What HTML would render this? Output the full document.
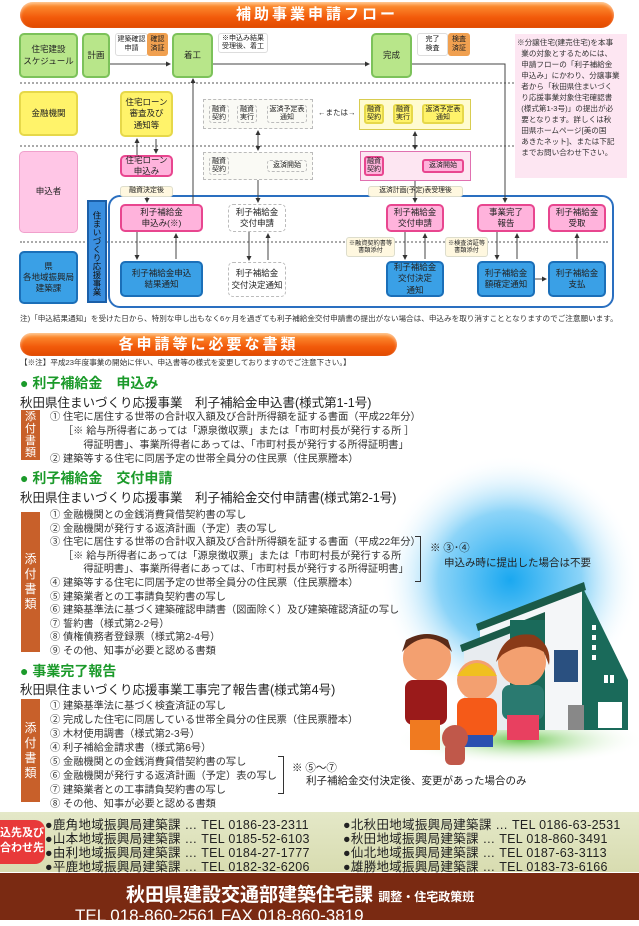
<!DOCTYPE html>
<html><head><meta charset="utf-8">
<style>
*{margin:0;padding:0;box-sizing:border-box}
body{width:639px;height:920px;position:relative;overflow:hidden;background:#fff;font-family:"Liberation Sans","Noto Sans CJK JP",sans-serif;color:#222}
.a{position:absolute}
.bx{position:absolute;display:flex;align-items:center;justify-content:center;text-align:center;font-size:8.5px;line-height:1.3;border-radius:5px;color:#222}
.g{background:#b8e68a;border:2px solid #7cc25a}
.y{background:#fff36a;border:2px solid #e6d84a}
.p{background:#ffb3dc;border:2px solid #e8468f}
.pl{background:#ffc6e6;border:1px solid #f0a0cc}
.b{background:#3aa0e6;border:2px solid #1b6fb8}
.w{background:#fff;border:1px dashed #bbb}
.sm{position:absolute;display:flex;align-items:center;justify-content:center;text-align:center;font-size:7px;line-height:1.2;border-radius:3px;white-space:nowrap}
.ban{position:absolute;border-radius:14px;background:linear-gradient(#ff9a3a,#f25a0a 60%,#e04a00);color:#fff;font-weight:bold;text-align:center;letter-spacing:3px;box-shadow:inset 0 2px 3px rgba(255,255,255,.5)}
.hd{position:absolute;left:20px;color:#1b9a2a;font-weight:bold;font-size:14px}
.st{position:absolute;left:20px;font-size:12.5px;color:#222}
.it{position:absolute;left:50px;font-size:10.2px;color:#333;white-space:nowrap}
.lab{position:absolute;left:21px;width:19px;background:#c8602a;color:#fff;font-size:12px;line-height:15px;display:flex;flex-direction:column;align-items:center;justify-content:center}
.ct{position:absolute;font-size:12.5px;color:#222;white-space:nowrap;letter-spacing:.3px}
</style></head><body>

<div class="ban" style="left:20px;top:2px;width:594px;height:26px;font-size:15px;line-height:26px">補助事業申請フロー</div>

<div class="a" style="left:20px;top:82px;width:494px;border-top:2px dotted #aaa"></div>
<div class="a" style="left:20px;top:145px;width:494px;border-top:2px dotted #aaa"></div>
<div class="a" style="left:20px;top:241px;width:588px;border-top:2px dotted #aaa"></div>

<div class="a" style="left:515px;top:34px;width:112px;height:144px;background:#fde6f2;font-size:7.6px;line-height:11px;padding:3px 0 0 2px;color:#333;white-space:nowrap">※分譲住宅(建売住宅)を本事<br>&nbsp;&nbsp;業の対象とするためには、<br>&nbsp;&nbsp;申請フローの「利子補給金<br>&nbsp;&nbsp;申込み」にかわり、分譲事業<br>&nbsp;&nbsp;者から「秋田県住まいづく<br>&nbsp;&nbsp;り応援事業対象住宅確認書<br>&nbsp;&nbsp;(様式第1-3号)」の提出が必<br>&nbsp;&nbsp;要となります。詳しくは秋<br>&nbsp;&nbsp;田県ホームページ[美の国<br>&nbsp;&nbsp;あきたネット]、または下記<br>&nbsp;&nbsp;までお問い合わせ下さい。</div>

<div class="a" style="left:108px;top:195px;width:506px;height:113px;border:2px solid #2a6fc0;border-radius:12px"></div>
<div class="a" style="left:87px;top:200px;width:20px;height:103px;background:#3a8fe0;border:2px solid #1b5fa8;font-size:8.5px;line-height:16px;writing-mode:vertical-rl;text-align:center;padding-top:4px;color:#111">住まいづくり応援事業</div>

<div class="bx g" style="left:19px;top:33px;width:59px;height:45px">住宅建設<br>スケジュール</div>
<div class="bx y" style="left:19px;top:91px;width:59px;height:45px">金融機関</div>
<div class="bx pl" style="left:19px;top:151px;width:59px;height:82px">申込者</div>
<div class="bx b" style="left:19px;top:251px;width:59px;height:53px">県<br>各地域振興局<br>建築課</div>

<div class="bx g" style="left:82px;top:33px;width:28px;height:45px">計画</div>
<div class="sm" style="left:115px;top:33px;width:33px;height:23px;background:#fff;border:1px solid #ddd">建築確認<br>申請</div>
<div class="sm" style="left:147px;top:33px;width:21px;height:23px;background:#f0a050">確認<br>済証</div>
<div class="bx g" style="left:172px;top:33px;width:41px;height:45px">着工</div>
<div class="sm" style="left:218px;top:33px;width:50px;height:20px;background:#fff;border:1px solid #ddd;text-align:left">※申込み結果<br>受理後、着工</div>
<div class="bx g" style="left:371px;top:33px;width:41px;height:45px">完成</div>
<div class="sm" style="left:417px;top:33px;width:31px;height:23px;background:#fff;border:1px solid #ddd">完了<br>検査</div>
<div class="sm" style="left:448px;top:33px;width:22px;height:23px;background:#f0a050">検査<br>済証</div>

<div class="bx y" style="left:120px;top:91px;width:53px;height:46px">住宅ローン<br>審査及び<br>通知等</div>
<div class="a" style="left:203px;top:99px;width:110px;height:30px;border:1px dashed #bbb;background:#fafaf5"></div>
<div class="sm" style="left:209px;top:105px;width:20px;height:18px;border:1px dashed #bbb">融資<br>契約</div>
<div class="sm" style="left:237px;top:105px;width:20px;height:18px;border:1px dashed #bbb">融資<br>実行</div>
<div class="sm" style="left:267px;top:105px;width:40px;height:18px;border:1px dashed #bbb">返済予定表<br>通知</div>
<div class="a" style="left:318px;top:107px;font-size:7.5px">←または→</div>
<div class="a" style="left:359px;top:99px;width:112px;height:31px;background:#fffbd0;border:1px solid #d8cc50"></div>
<div class="sm y" style="left:364px;top:104px;width:20px;height:20px">融資<br>契約</div>
<div class="sm y" style="left:393px;top:104px;width:20px;height:20px">融資<br>実行</div>
<div class="sm y" style="left:422px;top:104px;width:42px;height:20px">返済予定表<br>通知</div>

<div class="bx p" style="left:120px;top:155px;width:53px;height:22px">住宅ローン<br>申込み</div>
<div class="a" style="left:203px;top:152px;width:110px;height:28px;border:1px dashed #bbb;background:#fafaf5"></div>
<div class="sm" style="left:209px;top:157px;width:20px;height:18px;border:1px dashed #bbb">融資<br>契約</div>
<div class="sm" style="left:267px;top:160px;width:40px;height:12px;border:1px dashed #bbb">返済開始</div>
<div class="a" style="left:360px;top:151px;width:111px;height:30px;background:#fde6f2;border:1px solid #e070b0"></div>
<div class="sm p" style="left:364px;top:156px;width:20px;height:20px">融資<br>契約</div>
<div class="sm p" style="left:422px;top:159px;width:42px;height:14px">返済開始</div>

<div class="sm" style="left:120px;top:186px;width:53px;height:11px;background:#fff8e0;border:1px solid #ddc">融資決定後</div>
<div class="sm" style="left:368px;top:186px;width:95px;height:11px;background:#fff8e0;border:1px solid #ddc;font-size:6.8px">返済計画(予定)表受理後</div>

<div class="bx p" style="left:120px;top:204px;width:83px;height:28px">利子補給金<br>申込み(※)</div>
<div class="bx w" style="left:228px;top:204px;width:58px;height:28px">利子補給金<br>交付申請</div>
<div class="bx p" style="left:386px;top:204px;width:58px;height:28px">利子補給金<br>交付申請</div>
<div class="bx p" style="left:477px;top:204px;width:58px;height:28px">事業完了<br>報告</div>
<div class="bx p" style="left:548px;top:204px;width:58px;height:28px">利子補給金<br>受取</div>
<div class="sm" style="left:346px;top:237px;width:49px;height:20px;background:#fff8e0;border:1px solid #ddc;font-size:6.2px">※融資契約書等<br>書類添付</div>
<div class="sm" style="left:445px;top:237px;width:43px;height:20px;background:#fff8e0;border:1px solid #ddc;font-size:6.2px">※検査済証等<br>書類添付</div>

<div class="bx b" style="left:120px;top:261px;width:83px;height:36px">利子補給金申込<br>結果通知</div>
<div class="bx w" style="left:228px;top:262px;width:58px;height:35px">利子補給金<br>交付決定通知</div>
<div class="bx b" style="left:386px;top:261px;width:58px;height:36px">利子補給金<br>交付決定<br>通知</div>
<div class="bx b" style="left:477px;top:261px;width:58px;height:36px">利子補給金<br>額確定通知</div>
<div class="bx b" style="left:548px;top:261px;width:58px;height:36px">利子補給金<br>支払</div>

<svg class="a" style="left:0;top:0" width="639" height="320">
<defs><marker id="m" markerWidth="5" markerHeight="5" refX="4" refY="2.5" orient="auto"><path d="M0,0L5,2.5L0,5z" fill="#333"/></marker></defs>
<g stroke="#444" stroke-width="1" fill="none" marker-end="url(#m)">
<path d="M110,64H170"/><path d="M213,64H369"/><path d="M412,64H505V202"/>
<path d="M193,204V79"/>
<path d="M137,155V139"/><path d="M156,139V153"/>
<path d="M258,140V131"/><path d="M258,140V150"/><path d="M258,180V202"/>
<path d="M415,140V132"/><path d="M415,140V149"/><path d="M415,181V202"/>
<path d="M147,197V202"/>
<path d="M137,232V259"/><path d="M176,259V234"/>
<path d="M249,232V260"/><path d="M268,260V234"/>
<path d="M405,232V259"/><path d="M425,259V234"/>
<path d="M497,232V259"/><path d="M517,259V234"/>
<path d="M577,259V234"/><path d="M535,279H546"/>
</g></svg>

<div class="a" style="left:20px;top:313px;font-size:7.6px;white-space:nowrap;color:#333">注)「申込結果通知」を受けた日から、特別な申し出もなく6ヶ月を過ぎても利子補給金交付申請書の提出がない場合は、申込みを取り消すこととなりますのでご注意願います。</div>

<div class="ban" style="left:20px;top:333px;width:377px;height:23px;font-size:15px;line-height:23px">各申請等に必要な書類</div>

<svg class="a" style="left:380px;top:440px" width="259" height="370">
<defs><radialGradient id="sky" cx="0.5" cy="0.5" r="0.5"><stop offset="0" stop-color="#1aa8f0"/><stop offset="0.55" stop-color="#8cd4f8"/><stop offset="1" stop-color="#fff" stop-opacity="0"/></radialGradient>
<radialGradient id="gr" cx="0.5" cy="0.5" r="0.5"><stop offset="0" stop-color="#6cc850"/><stop offset="1" stop-color="#fff" stop-opacity="0"/></radialGradient></defs>
<ellipse cx="130" cy="140" rx="130" ry="125" fill="url(#sky)"/>
<ellipse cx="140" cy="300" rx="125" ry="25" fill="url(#gr)"/>
<polygon points="100,184 202,146 202,290 100,290" fill="#f4f6f8"/>
<polygon points="202,146 248,240 248,290 202,290" fill="#1a6a5a"/>
<polygon points="96,184 204,142 206,150 98,191" fill="#1a5a48"/>
<polygon points="84,205 165,178 165,290 84,290" fill="#e8ecf0"/>
<polygon points="80,205 165,172 165,180 82,212" fill="#1a5a48"/>
<rect x="130" y="180" width="35" height="110" fill="#1a6a5a"/>
<rect x="174" y="210" width="24" height="32" fill="#2a5080"/>
<rect x="188" y="265" width="16" height="25" fill="#888"/>
<rect x="218" y="262" width="24" height="26" fill="#fff"/>
<g fill="#fff"><rect x="212" y="185" width="4" height="5"/><rect x="212" y="195" width="4" height="5"/><rect x="212" y="205" width="4" height="5"/><rect x="212" y="215" width="4" height="5"/><rect x="224" y="235" width="4" height="8"/><rect x="230" y="235" width="4" height="8"/></g>
<circle cx="47" cy="218" r="24" fill="#f3a070"/><path d="M22,212Q47,185 72,212L68,200Q47,188 26,200z" fill="#5a2a18"/>
<rect x="25" y="240" width="42" height="45" rx="8" fill="#9a1a1a"/><rect x="30" y="280" width="30" height="30" fill="#f07a20"/>
<circle cx="142" cy="222" r="24" fill="#f3a070"/><path d="M116,222Q124,190 154,195Q172,205 169,225L164,212Q144,200 122,215z" fill="#8a3a18"/>
<rect x="122" y="245" width="42" height="35" rx="8" fill="#2a7a70"/><rect x="127" y="275" width="32" height="25" fill="#e84060"/>
<circle cx="97" cy="240" r="20" fill="#f3a070"/><path d="M77,236Q97,210 117,236z" fill="#f0c020"/>
<rect x="77" y="258" width="40" height="40" rx="8" fill="#f55a18"/><rect x="81" y="295" width="32" height="12" fill="#2a50b0"/>
<circle cx="75" cy="298" r="13" fill="#c0584a"/><rect x="65" y="303" width="20" height="22" rx="6" fill="#c0584a"/>
</svg>

<div class="a" style="left:20px;top:357px;font-size:7.6px;color:#333">【※注】平成23年度事業の開始に伴い、申込書等の様式を変更しておりますのでご注意下さい。】</div>
<div class="hd" style="top:373px">● 利子補給金　申込み</div>
<div class="st" style="top:392px">秋田県住まいづくり応援事業　利子補給金申込書(様式第1-1号)</div>
<div class="lab" style="top:410px;height:50px;font-size:11px;line-height:12px">添<br>付<br>書<br>類</div>
<div class="it" style="top:408px">① 住宅に居住する世帯の合計収入額及び合計所得額を証する書面（平成22年分）</div>
<div class="it" style="top:422px;left:63px">［※ 給与所得者にあっては「源泉徴収票」または「市町村長が発行する所 ］</div>
<div class="it" style="top:436px;left:63px">　　得証明書」、事業所得者にあっては、「市町村長が発行する所得証明書」</div>
<div class="it" style="top:450px">② 建築等する住宅に同居予定の世帯全員分の住民票（住民票謄本）</div>

<div class="hd" style="top:468px">● 利子補給金　交付申請</div>
<div class="st" style="top:487px">秋田県住まいづくり応援事業　利子補給金交付申請書(様式第2-1号)</div>
<div class="lab" style="top:512px;height:140px">添<br>付<br>書<br>類</div>
<div class="it" style="top:506px">① 金融機関との金銭消費貸借契約書の写し</div>
<div class="it" style="top:520px">② 金融機関が発行する返済計画（予定）表の写し</div>
<div class="it" style="top:533px">③ 住宅に居住する世帯の合計収入額及び合計所得額を証する書面（平成22年分）</div>
<div class="it" style="top:547px;left:63px">［※ 給与所得者にあっては「源泉徴収票」または「市町村長が発行する所</div>
<div class="it" style="top:560px;left:63px">　　得証明書」、事業所得者にあっては、「市町村長が発行する所得証明書」</div>
<div class="it" style="top:574px">④ 建築等する住宅に同居予定の世帯全員分の住民票（住民票謄本）</div>
<div class="it" style="top:588px">⑤ 建築業者との工事請負契約書の写し</div>
<div class="it" style="top:601px">⑥ 建築基準法に基づく建築確認申請書（図面除く）及び建築確認済証の写し</div>
<div class="it" style="top:615px">⑦ 誓約書（様式第2-2号）</div>
<div class="it" style="top:628px">⑧ 債権債務者登録票（様式第2-4号）</div>
<div class="it" style="top:642px">⑨ その他、知事が必要と認める書類</div>
<div class="a" style="left:415px;top:536px;width:6px;height:46px;border:1px solid #333;border-left:none"></div>
<div class="a" style="left:430px;top:540px;font-size:10.5px">※ ③･④</div>
<div class="a" style="left:444px;top:555px;font-size:10.5px">申込み時に提出した場合は不要</div>

<div class="hd" style="top:661px">● 事業完了報告</div>
<div class="st" style="top:679px">秋田県住まいづくり応援事業工事完了報告書(様式第4号)</div>
<div class="lab" style="top:699px;height:103px">添<br>付<br>書<br>類</div>
<div class="it" style="top:697px">① 建築基準法に基づく検査済証の写し</div>
<div class="it" style="top:711px">② 完成した住宅に同居している世帯全員分の住民票（住民票謄本）</div>
<div class="it" style="top:725px">③ 木材使用調書（様式第2-3号）</div>
<div class="it" style="top:739px">④ 利子補給金請求書（様式第6号）</div>
<div class="it" style="top:753px">⑤ 金融機関との金銭消費貸借契約書の写し</div>
<div class="it" style="top:767px">⑥ 金融機関が発行する返済計画（予定）表の写し</div>
<div class="it" style="top:781px">⑦ 建築業者との工事請負契約書の写し</div>
<div class="it" style="top:795px">⑧ その他、知事が必要と認める書類</div>
<div class="a" style="left:278px;top:756px;width:6px;height:38px;border:1px solid #333;border-left:none"></div>
<div class="a" style="left:292px;top:760px;font-size:10.5px">※ ⑤～⑦</div>
<div class="a" style="left:306px;top:773px;font-size:10.5px">利子補給金交付決定後、変更があった場合のみ</div>

<div class="a" style="left:0;top:812px;width:639px;height:60px;background:linear-gradient(#e4e8c8,#d8dcb0)"></div>
<div class="a" style="left:-10px;top:820px;width:55px;height:44px;background:#e83a3a;border-radius:10px;color:#fff;font-weight:bold;font-size:11px;line-height:15px;padding:6px 0 0 10px">込先及び<br>合わせ先</div>
<div class="ct" style="left:45px;top:814px">●鹿角地域振興局建築課 … TEL 0186-23-2311</div>
<div class="ct" style="left:45px;top:828px">●山本地域振興局建築課 … TEL 0185-52-6103</div>
<div class="ct" style="left:45px;top:842px">●由利地域振興局建築課 … TEL 0184-27-1777</div>
<div class="ct" style="left:45px;top:856px">●平鹿地域振興局建築課 … TEL 0182-32-6206</div>
<div class="ct" style="left:343px;top:814px">●北秋田地域振興局建築課 … TEL 0186-63-2531</div>
<div class="ct" style="left:343px;top:828px">●秋田地域振興局建築課 … TEL 018-860-3491</div>
<div class="ct" style="left:343px;top:842px">●仙北地域振興局建築課 … TEL 0187-63-3113</div>
<div class="ct" style="left:343px;top:856px">●雄勝地域振興局建築課 … TEL 0183-73-6166</div>

<div class="a" style="left:0;top:873px;width:639px;height:47px;background:#7a2a12"></div>
<div class="a" style="left:126px;top:880px;color:#fff;font-weight:bold;font-size:19px;white-space:nowrap">秋田県建設交通部建築住宅課 <span style="font-size:12px">調整・住宅政策班</span></div>
<div class="a" style="left:75px;top:906px;color:#fff;font-size:17px;white-space:nowrap">TEL 018-860-2561  FAX 018-860-3819</div>
</body></html>
